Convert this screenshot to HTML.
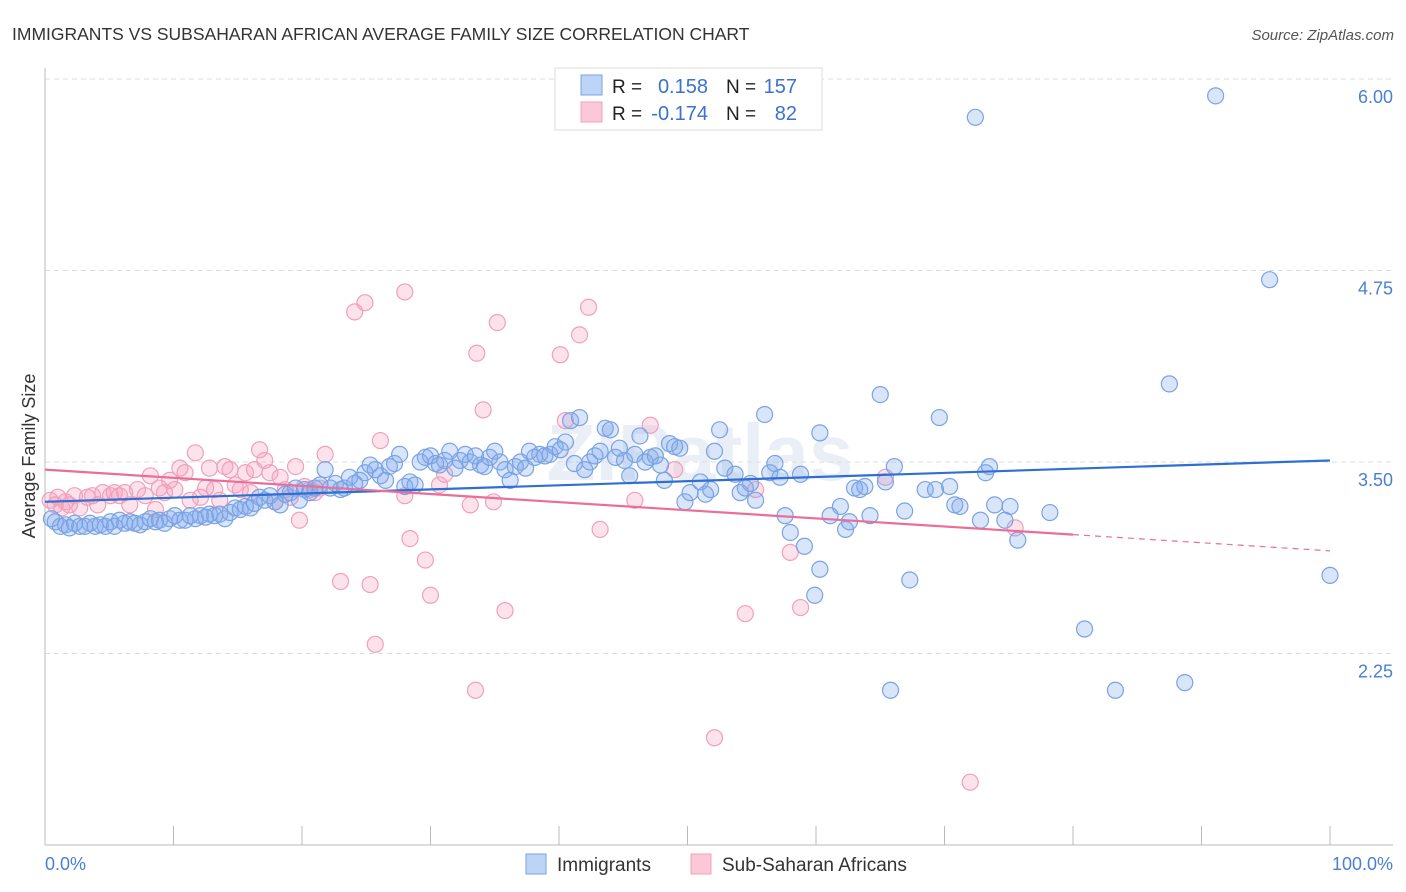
<!DOCTYPE html>
<html><head><meta charset="utf-8">
<style>
body{margin:0;background:#fff;font-family:"Liberation Sans",sans-serif;}
#wrap{position:relative;width:1406px;height:892px;overflow:hidden;}
</style></head>
<body>
<div id="wrap">
<svg id="svg" width="1406" height="892" xmlns="http://www.w3.org/2000/svg">
<text x="12" y="40" font-size="17.5" fill="#333">IMMIGRANTS VS SUBSAHARAN AFRICAN AVERAGE FAMILY SIZE CORRELATION CHART</text>
<text x="1394" y="40" font-size="15" fill="#555" font-style="italic" text-anchor="end">Source: ZipAtlas.com</text>
<text x="35" y="456" font-size="18" fill="#333" text-anchor="middle" transform="rotate(-90 35 456)">Average Family Size</text>
<text x="700" y="480" font-size="80" fill="#dde6f3" text-anchor="middle" font-weight="bold" opacity="0.6">ZIPatlas</text>
<g id="grid"></g>
<g id="axes"></g>
<g id="pink"></g>
<g id="blue"></g>
<g id="trends"></g>
<g>
<rect x="555" y="68" width="267" height="62" fill="#fff" stroke="#ddd"/>
<rect x="581" y="75" width="21" height="20" fill="#bcd4f5" stroke="#7aa3e5"/>
<rect x="581" y="102" width="21" height="20" fill="#fbc8d8" stroke="#f0a0bc"/>
<text x="612" y="93" font-size="19" fill="#222">R =</text>
<text x="708" y="93" font-size="20" fill="#3a72d0" text-anchor="end">0.158</text>
<text x="726" y="93" font-size="19" fill="#222">N =</text>
<text x="797" y="93" font-size="20" fill="#3a72d0" text-anchor="end">157</text>
<text x="612" y="120" font-size="19" fill="#222">R =</text>
<text x="708" y="120" font-size="20" fill="#3a72d0" text-anchor="end">-0.174</text>
<text x="726" y="120" font-size="19" fill="#222">N =</text>
<text x="797" y="120" font-size="20" fill="#3a72d0" text-anchor="end">82</text>
</g>
<g>
<rect x="526" y="854" width="20" height="20" fill="#bcd4f5" stroke="#7aa3e5"/>
<text x="557" y="871" font-size="19" fill="#333">Immigrants</text>
<rect x="691" y="854" width="20" height="20" fill="#fbc8d8" stroke="#f0a0bc"/>
<text x="722" y="871" font-size="19" fill="#333">Sub-Saharan Africans</text>
</g>
<text x="45" y="870" font-size="18" fill="#4a7fd6">0.0%</text>
<text x="1393" y="870" font-size="18" fill="#4a7fd6" text-anchor="end">100.0%</text>
</svg>
</div>
<script>
const yTicks=[6.00,4.75,3.50,2.25];
const yTickLabels=["6.00","4.75","3.50","2.25"];
const xTicks=[0,10,20,30,40,50,60,70,80,90,100];
const immX=[0.5,0.8,1.2,1.6,1.9,2.3,2.7,3.1,3.5,3.9,4.3,4.7,5.1,5.4,5.8,6.2,6.6,7.0,7.4,7.8,8.2,8.6,8.9,9.3,9.7,10.1,10.5,10.9,11.3,11.7,12.1,12.5,12.8,13.2,13.6,14.0,14.4,14.8,15.2,15.6,16.0,16.3,16.7,17.1,17.5,17.9,18.3,18.7,19.1,19.5,19.8,20.2,20.6,21.0,21.4,21.8,22.2,22.6,23.0,23.3,23.7,24.1,24.5,24.9,25.3,25.7,26.1,26.5,26.8,27.2,27.6,28.0,28.4,28.8,29.2,29.6,30.0,30.4,30.7,31.1,31.5,31.9,32.3,32.7,33.1,33.5,33.9,34.2,34.6,35.0,35.4,35.8,36.2,36.6,37.0,37.4,37.7,38.1,38.5,38.9,39.3,39.7,40.1,40.5,40.9,41.2,41.6,42.0,42.4,42.8,43.2,43.6,44.0,44.4,44.7,45.1,45.5,45.9,46.3,46.7,47.1,47.5,47.9,48.2,48.6,49.0,49.4,49.8,50.2,51.0,51.4,51.8,52.1,52.5,52.9,53.7,54.1,54.5,54.9,55.3,56.0,56.4,56.8,57.2,57.6,58.0,58.8,59.1,59.9,60.3,60.3,61.1,61.9,62.3,62.6,63.0,63.4,63.8,64.2,65.0,65.4,65.8,66.1,66.9,67.3,68.5,69.3,69.6,70.4,70.8,71.2,72.4,72.8,73.2,73.5,73.9,74.7,75.1,75.7,78.2,80.9,83.3,87.5,88.7,91.1,95.3,100];
const immY=[3.13,3.11,3.08,3.09,3.07,3.10,3.08,3.08,3.10,3.08,3.09,3.08,3.11,3.08,3.12,3.10,3.11,3.10,3.09,3.11,3.13,3.11,3.12,3.10,3.13,3.15,3.12,3.12,3.15,3.13,3.15,3.14,3.16,3.15,3.16,3.13,3.17,3.20,3.19,3.21,3.20,3.23,3.27,3.25,3.28,3.24,3.22,3.29,3.30,3.33,3.25,3.32,3.30,3.33,3.35,3.45,3.33,3.36,3.32,3.33,3.40,3.36,3.38,3.43,3.48,3.45,3.41,3.38,3.47,3.49,3.55,3.34,3.37,3.35,3.50,3.53,3.54,3.49,3.48,3.51,3.57,3.46,3.51,3.55,3.50,3.54,3.48,3.47,3.53,3.57,3.50,3.45,3.38,3.47,3.50,3.46,3.57,3.53,3.55,3.54,3.55,3.60,3.58,3.63,3.77,3.49,3.79,3.45,3.50,3.54,3.57,3.72,3.71,3.53,3.59,3.51,3.41,3.55,3.67,3.50,3.53,3.54,3.48,3.38,3.62,3.60,3.59,3.24,3.30,3.37,3.29,3.32,3.57,3.71,3.46,3.42,3.30,3.33,3.36,3.25,3.81,3.43,3.49,3.40,3.15,3.04,3.42,2.95,2.63,2.80,3.69,3.15,3.21,3.06,3.11,3.33,3.32,3.34,3.15,3.94,3.37,2.01,3.47,3.18,2.73,3.32,3.32,3.79,3.34,3.22,3.21,5.75,3.12,3.43,3.47,3.22,3.12,3.21,2.99,3.17,2.41,2.01,4.01,2.06,5.89,4.69,2.76];
const ssaX=[0.4,0.8,1.0,1.3,1.6,1.9,2.3,2.7,3.3,3.7,4.1,4.5,5.1,5.4,5.8,6.2,6.6,7.2,7.8,8.2,8.6,8.9,9.3,9.7,10.1,10.5,10.9,11.3,11.7,12.1,12.5,12.8,13.2,13.6,14.0,14.4,14.8,15.2,15.6,16.0,16.3,16.7,17.1,17.5,17.9,18.3,18.7,19.1,19.5,19.8,20.2,20.6,21.0,21.4,21.8,23.0,24.1,24.9,25.3,25.7,26.1,28.0,28.0,28.4,29.6,30.0,30.7,31.1,33.1,33.5,33.6,34.1,34.9,35.2,35.8,40.1,40.5,41.6,42.3,43.2,45.9,47.1,49.0,52.1,54.5,55.3,58.0,58.8,65.4,72.0,75.5];
const ssaY=[3.25,3.22,3.27,3.20,3.24,3.22,3.28,3.20,3.27,3.28,3.22,3.30,3.28,3.30,3.28,3.30,3.22,3.32,3.28,3.41,3.19,3.33,3.30,3.38,3.32,3.46,3.43,3.25,3.56,3.27,3.33,3.46,3.32,3.25,3.47,3.45,3.35,3.32,3.43,3.30,3.45,3.58,3.51,3.43,3.24,3.40,3.32,3.27,3.47,3.12,3.34,3.32,3.30,3.33,3.55,2.72,4.48,4.54,2.70,2.31,3.64,4.61,3.28,3.00,2.86,2.63,3.35,3.42,3.22,2.01,4.21,3.84,3.24,4.41,2.53,4.20,3.77,4.33,4.51,3.06,3.25,3.74,3.45,1.70,2.51,3.32,2.91,2.55,3.40,1.41,3.07];
const immTrend=[3.24,3.51];
const ssaTrend=[3.45,2.92];
const ssaSolidEnd=80;

const NS="http://www.w3.org/2000/svg";
const X0=45,X1=1330,Y6=79,PXU=153.2;
function sx(p){return X0+(X1-X0)*p/100;}
function sy(v){return Y6+(6-v)*PXU;}
function mk(tag,attrs,parent){const e=document.createElementNS(NS,tag);for(const k in attrs)e.setAttribute(k,attrs[k]);parent.appendChild(e);return e;}
const grid=document.getElementById('grid'),axes=document.getElementById('axes');
yTicks.forEach((t,i)=>{
  const l=mk('line',{x1:X0,x2:1393,y1:sy(t),y2:sy(t),stroke:'#ddd','stroke-dasharray':'5,4'},grid);
  
  
  const tx=mk('text',{x:1393,y:sy(t)+24,'font-size':18,fill:'#4a7fd6','text-anchor':'end'},grid);
  tx.textContent=yTickLabels[i];
  
  
});
const ya=mk('line',{x1:X0,x2:X0,y1:68,y2:845,stroke:'#bbb'},axes);


const xa=mk('line',{x1:X0,x2:1393,y1:845,y2:845,stroke:'#bbb'},axes);


xTicks.forEach(t=>{
  const l=mk('line',{x1:sx(t),x2:sx(t),y1:826,y2:845,stroke:'#bbb'},axes);
  
  
});
function pts(xs,ys,g,fill,stroke,name){
  xs.forEach((x,i)=>{
    const c=mk('circle',{cx:sx(x),cy:sy(ys[i]),r:8,fill:fill,stroke:stroke,'stroke-width':1.2},g);
    
    
  });
}
pts(ssaX,ssaY,document.getElementById('pink'),'rgba(244,160,190,0.3)','#f0a0bc','subsaharan-point');
pts(immX,immY,document.getElementById('blue'),'rgba(130,170,235,0.3)','#7aa3e5','immigrants-point');
const tr=document.getElementById('trends');
const bl=mk('line',{x1:sx(0),y1:sy(immTrend[0]),x2:sx(100),y2:sy(immTrend[1]),stroke:'#2f6fd4','stroke-width':2.2},tr);


const ym=ssaTrend[0]+(ssaTrend[1]-ssaTrend[0])*ssaSolidEnd/100;
const pl=mk('line',{x1:sx(0),y1:sy(ssaTrend[0]),x2:sx(ssaSolidEnd),y2:sy(ym),stroke:'#e96e98','stroke-width':2.2},tr);


const pd=mk('line',{x1:sx(ssaSolidEnd),y1:sy(ym),x2:sx(100),y2:sy(ssaTrend[1]),stroke:'#e96e98','stroke-width':1.2,'stroke-dasharray':'6,5'},tr);


</script>
</body></html>
